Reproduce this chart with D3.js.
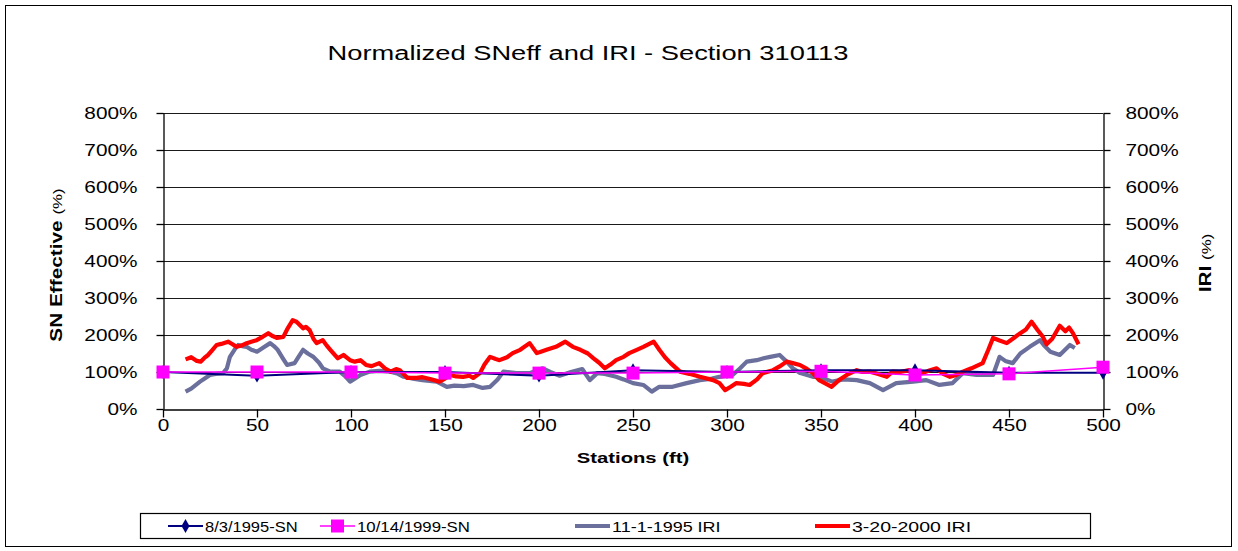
<!DOCTYPE html>
<html><head><meta charset="utf-8">
<script src="https://cdn.jsdelivr.net/npm/d3@7"></script>
<style>
body{margin:0;background:#fff}
svg{display:block}
text{font-family:"Liberation Sans",Arial,sans-serif;fill:#000}
</style>
</head><body>
<svg id="chart" width="1238" height="551"></svg>
<script>
// ---------- DATA ----------
const chartTitle = "Normalized SNeff and IRI - Section 310113";
const xTitle = "Stations (ft)";
const yLeftTitle = "SN Effective";
const yRightTitle = "IRI";
const xTickValues = [0, 50, 100, 150, 200, 250, 300, 350, 400, 450, 500];
const yTickValues = [0, 100, 200, 300, 400, 500, 600, 700, 800];
const seriesNames = ["8/3/1995-SN", "10/14/1999-SN", "11-1-1995 IRI", "3-20-2000 IRI"];

const snStations = [0, 50, 100, 150, 200, 250, 300, 350, 400, 450, 500];
const sn1995 = [100, 90, 100, 100, 90, 105, 100, 105, 105, 98, 98];
const sn1999 = [100, 100, 100, 97, 97, 97, 100, 102, 92, 95, 113];

const iri1995Stations = [12,15,19.7,22,25,28,32,34,35.6,38,40,42,44.5,47,50,53,57,59,61,64,66,70,72,74.5,77,80,83,85,89,94,97,99.5,102,105,110,115,121,125,128,133,138,145.6,151,155,160,165,170,174,178,181,188,195,202,206,211,217,223,227,231,235,241,245,250,255.5,260,264,271,278.5,285.6,292,296,303,307,310.5,315.8,320,323,328,331.7,335,339,345.7,349,356,362,369,376,383,390,399,406,413,420,425.5,432.8,441.5,445,448,452,456,461,466.5,469,472,477,482.4,485];
const iri1995 = [47,55,74,82,92,95,97,110,141,160,173,170,168,160,155,165,178,170,160,135,119,124,140,160,150,141,125,110,101,101,88,74,82,92,101,103,101,95,87,82,78,74,60,63,62,65,57,60,80,101,97,97,110,100,90,100,108,78,97,95,87,80,70,65,47,60,60,70,78,82,87,92,110,128,132,138,141,146,128,110,97,87,87,74,80,78,70,51,70,74,78,65,70,97,92,92,141,130,124,150,168,186,170,155,146,173,165];

const iri2000Stations = [12,15,18,20,22,24,26,28.5,31,34.6,37,39,42,44.5,47,49.8,53,56,58,60.5,64,66,69,71,74.5,76,78,80,81.7,85,87,89,93,96,99.5,102,105,108,111,115,118,121,124,126,130,135,138,142,147,150,152.7,156,159.6,163,165,168.6,171,174,177,179,183,186,190,195,198.8,201,204,209,214,218,222,226,229,232,235,238,241,245,248,252,255.5,261,264,267,270,275,280,285.6,292.6,296,299,302,305,309,312,316,319,324.5,328,331.7,335,338.8,342,345.7,349,352,355.7,360,363.7,369,372,376,380,385,388,392,397,400,404,408,411.5,415,418.6,422,425.5,430,436,439,441.5,445,448.8,452,456,459,462,465,468,470,473,477,480,482,484,487];
const iri2000 = [134,140,130,128,138,146,158,173,176,182,175,168,172,178,182,186,195,205,198,192,195,215,240,236,218,222,213,190,178,186,172,160,137,146,132,128,132,119,116,124,110,101,108,105,84,84,86,81,74,82,92,88,87,90,84,97,120,141,135,132,140,151,160,178,151,155,160,168,182,168,160,150,137,125,110,120,132,141,151,160,168,182,160,140,124,101,95,87,78,70,51,60,70,68,65,80,97,105,115,128,124,119,110,97,78,70,60,80,92,105,100,101,95,87,101,100,105,100,97,105,110,95,87,92,101,110,124,160,192,185,178,190,205,215,236,215,195,175,190,225,210,220,205,175];

// ---------- LAYOUT ----------
const svg = d3.select("#chart");
const W = 1238, H = 551;
const plot = {left: 163, right: 1103, top: 113, bottom: 409};

const x = d3.scaleLinear().domain([0, 500]).range([plot.left, plot.right]);
const yL = d3.scaleLinear().domain([0, 800]).range([plot.bottom, plot.top]);
const yR = d3.scaleLinear().domain([0, 800]).range([plot.bottom, plot.top]);

// outer border
svg.append("rect").attr("x", 5.5).attr("y", 5.5).attr("width", W - 12).attr("height", H - 10)
  .attr("fill", "#fff").attr("stroke", "#000").attr("stroke-width", 1);

function stretched(g, txt, px, py, sx, opts) {
  const t = g.append("text").attr("transform", `translate(${px},${py}) scale(${sx},1)`).text(txt);
  if (opts) Object.entries(opts).forEach(([k, v]) => t.attr(k, v));
  return t;
}
// title
stretched(svg, chartTitle, 588, 60, 1.3, {"text-anchor": "middle", "font-size": "21px"});

// gridlines
svg.append("g").selectAll("line").data(yTickValues.filter(d => d > 0)).join("line")
  .attr("x1", plot.left).attr("x2", plot.right)
  .attr("y1", d => Math.round(yL(d)) + 0.5).attr("y2", d => Math.round(yL(d)) + 0.5)
  .attr("stroke", "#1a1a1a").attr("stroke-width", 1.2);

const SX = 1.3;
// left axis
const gL = svg.append("g").attr("transform", `translate(${plot.left + 0.5},0)`)
  .call(d3.axisLeft(yL).tickValues(yTickValues).tickSize(7).tickSizeOuter(0).tickFormat(d => d + "%"));
gL.selectAll("text").attr("x", -26 / SX).attr("transform", `scale(${SX},1)`).attr("font-size", "16px").attr("font-family", null);
// right axis
const gR = svg.append("g").attr("transform", `translate(${plot.right + 0.5},0)`)
  .call(d3.axisRight(yR).tickValues(yTickValues).tickSize(7).tickSizeOuter(0).tickFormat(d => d + "%"));
gR.selectAll("text").attr("x", 22 / SX).attr("transform", `scale(${SX},1)`).attr("font-size", "16px").attr("font-family", null);
// bottom axis
const gB = svg.append("g").attr("transform", `translate(0,${plot.bottom + 0.5})`)
  .call(d3.axisBottom(x).tickValues(xTickValues).tickSize(8).tickSizeOuter(0).tickFormat(d3.format("d")));
gB.selectAll("text").attr("y", 10).attr("x", 0).attr("transform", `scale(${SX},1)`).attr("font-size", "16px").attr("font-family", null);
[gL, gR, gB].forEach(g => {
  g.selectAll("path.domain").attr("stroke", "#000").attr("stroke-width", 1.3);
  g.selectAll(".tick line").attr("stroke", "#000").attr("stroke-width", 1.3);
});

// axis titles
const tl = svg.append("text").attr("transform", `translate(62,265) rotate(-90) scale(1.3,1)`).attr("text-anchor", "middle");
tl.append("tspan").attr("font-weight", "bold").attr("font-size", "16px").text(yLeftTitle + "  ");
tl.append("tspan").attr("font-size", "13px").text("(%)");
const tr = svg.append("text").attr("transform", `translate(1211,263) rotate(-90) scale(1.3,1)`).attr("text-anchor", "middle");
tr.append("tspan").attr("font-weight", "bold").attr("font-size", "16px").text(yRightTitle + "  ");
tr.append("tspan").attr("font-size", "13px").text("(%)");
stretched(svg, xTitle, 633, 463, 1.35, {"text-anchor": "middle", "font-size": "15px", "font-weight": "bold"});

// ---------- SERIES ----------
const line = d3.line().x(d => x(d[0])).y(d => yR(d[1]));
const lineL = d3.line().x(d => x(d[0])).y(d => yL(d[1]));
const colors = ["#000080", "#FF00FF", "#6B6F9C", "#FF0000"];

svg.append("path").datum(d3.zip(iri1995Stations, iri1995)).attr("d", line)
  .attr("fill", "none").attr("stroke", colors[2]).attr("stroke-width", 4.2).attr("stroke-linejoin", "round");
svg.append("path").datum(d3.zip(iri2000Stations, iri2000)).attr("d", line)
  .attr("fill", "none").attr("stroke", colors[3]).attr("stroke-width", 4.2).attr("stroke-linejoin", "round");

svg.append("path").datum(d3.zip(snStations, sn1995)).attr("d", lineL)
  .attr("fill", "none").attr("stroke", colors[0]).attr("stroke-width", 2);
const diamond = d3.symbol().type(d3.symbolDiamond).size(55);
svg.append("g").selectAll("path").data(d3.zip(snStations, sn1995)).join("path")
  .attr("transform", d => `translate(${x(d[0])},${yL(d[1])})`).attr("d", diamond).attr("fill", colors[0]);

svg.append("path").datum(d3.zip(snStations, sn1999)).attr("d", lineL)
  .attr("fill", "none").attr("stroke", colors[1]).attr("stroke-width", 1.5);
svg.append("g").selectAll("rect").data(d3.zip(snStations, sn1999)).join("rect")
  .attr("x", d => x(d[0]) - 6.5).attr("y", d => yL(d[1]) - 6.5).attr("width", 13).attr("height", 13)
  .attr("fill", colors[1]);

// ---------- LEGEND ----------
const leg = svg.append("g");
leg.append("rect").attr("x", 140.5).attr("y", 513.5).attr("width", 950).attr("height", 25)
  .attr("fill", "#fff").attr("stroke", "#000").attr("stroke-width", 1.2);
const legX = [168, 320, 575, 815];
const legSX = [1.1, 1.12, 1.2, 1.3];
const ly = 526;
seriesNames.forEach((name, i) => {
  const g = leg.append("g").attr("transform", `translate(${legX[i]},${ly})`);
  g.append("line").attr("x1", 0).attr("x2", 35).attr("y1", 0).attr("y2", 0)
    .attr("stroke", colors[i]).attr("stroke-width", i < 2 ? (i === 0 ? 2 : 1.5) : 4);
  if (i === 0) g.append("path").attr("transform", "translate(17.5,0)").attr("d", diamond).attr("fill", colors[0]);
  if (i === 1) g.append("rect").attr("x", 11).attr("y", -6.5).attr("width", 13).attr("height", 13).attr("fill", colors[1]);
  stretched(g, name, 37, 5.5, legSX[i], {"font-size": "15px"});
});
</script>
</body></html>
